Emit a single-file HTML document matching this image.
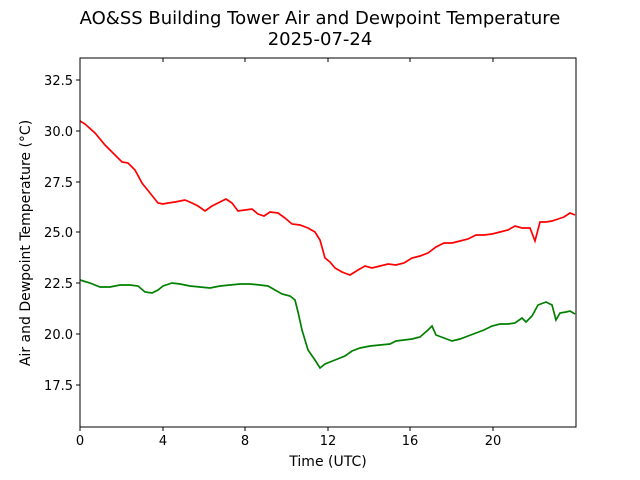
<!DOCTYPE html>
<html><head><meta charset="utf-8"><style>
html,body{margin:0;padding:0;background:#fff;}
svg{display:block;font-family:"DejaVu Sans","Liberation Sans",sans-serif;}
</style></head><body>
<svg width="640" height="480" viewBox="0 0 640 480" xmlns="http://www.w3.org/2000/svg">
<rect width="640" height="480" fill="#fff"/>
<text x="320" y="24" font-size="18" text-anchor="middle">AO&amp;SS Building Tower Air and Dewpoint Temperature</text>
<text x="320" y="45" font-size="18" text-anchor="middle">2025-07-24</text>
<g stroke="#000" stroke-width="1">
<line x1="80" y1="427" x2="80" y2="431"/><line x1="163" y1="427" x2="163" y2="431"/><line x1="245" y1="427" x2="245" y2="431"/><line x1="328" y1="427" x2="328" y2="431"/><line x1="410" y1="427" x2="410" y2="431"/><line x1="493" y1="427" x2="493" y2="431"/>
<line x1="163" y1="58" x2="163" y2="62"/><line x1="245" y1="58" x2="245" y2="62"/><line x1="328" y1="58" x2="328" y2="62"/><line x1="410" y1="58" x2="410" y2="62"/><line x1="493" y1="58" x2="493" y2="62"/>
<line x1="76" y1="80" x2="80" y2="80"/><line x1="76" y1="131" x2="80" y2="131"/><line x1="76" y1="182" x2="80" y2="182"/><line x1="76" y1="232" x2="80" y2="232"/><line x1="76" y1="283" x2="80" y2="283"/><line x1="76" y1="334" x2="80" y2="334"/><line x1="76" y1="385" x2="80" y2="385"/>
</g>
<g font-size="13" text-anchor="middle">
<text x="80" y="445">0</text><text x="163" y="445">4</text><text x="245" y="445">8</text><text x="328" y="445">12</text><text x="410" y="445">16</text><text x="493" y="445">20</text>
</g>
<g font-size="13" text-anchor="end">
<text x="73" y="85">32.5</text><text x="73" y="136">30.0</text><text x="73" y="187">27.5</text><text x="73" y="237">25.0</text><text x="73" y="288">22.5</text><text x="73" y="339">20.0</text><text x="73" y="390">17.5</text>
</g>
<text x="328" y="466" font-size="14" text-anchor="middle">Time (UTC)</text>
<text transform="translate(30,243) rotate(-90)" font-size="14" text-anchor="middle">Air and Dewpoint Temperature (°C)</text>
<polyline fill="none" stroke="#ff0000" stroke-width="1.7" points="80,121 85,124 95,133 105,145 115,155 122,162 128,163 135,170 142,183 150,193 158,203 163,204 168,203 175,202 185,200 192,203 198,206 205,211 212,206 218,203 226,199 232,203 238,211 245,210 252,209 258,214 264,216 270,212 278,213 285,218 292,224 300,225 308,228 315,232 320,240 325,258 330,262 335,268 342,272 350,275 358,270 365,266 372,268 380,266 388,264 396,265 404,263 412,258 420,256 428,253 436,247 444,243 452,243 460,241 468,239 476,235 484,235 492,234 500,232 508,230 515,226 522,228 530,228 535,241 540,222 546,222 552,221 558,219 564,217 570,213 575,215"/>
<polyline fill="none" stroke="#008000" stroke-width="1.7" points="80,280 90,283 100,287 110,287 120,285 130,285 138,286 145,292 152,293 158,290 163,286 172,283 180,284 190,286 200,287 210,288 220,286 230,285 240,284 250,284 260,285 268,286 275,290 282,294 290,296 295,300 298,312 302,330 308,350 315,360 320,368 325,364 335,360 345,356 352,351 360,348 370,346 380,345 390,344 396,341 404,340 412,339 420,337 428,330 432,326 436,335 444,338 452,341 460,339 468,336 476,333 484,330 492,326 500,324 508,324 515,323 522,318 526,322 532,316 538,305 546,302 552,305 556,320 560,313 566,312 570,311 575,314"/>
<rect x="80" y="58" width="496" height="369" fill="none" stroke="#000" stroke-width="1"/>
</svg>
</body></html>
